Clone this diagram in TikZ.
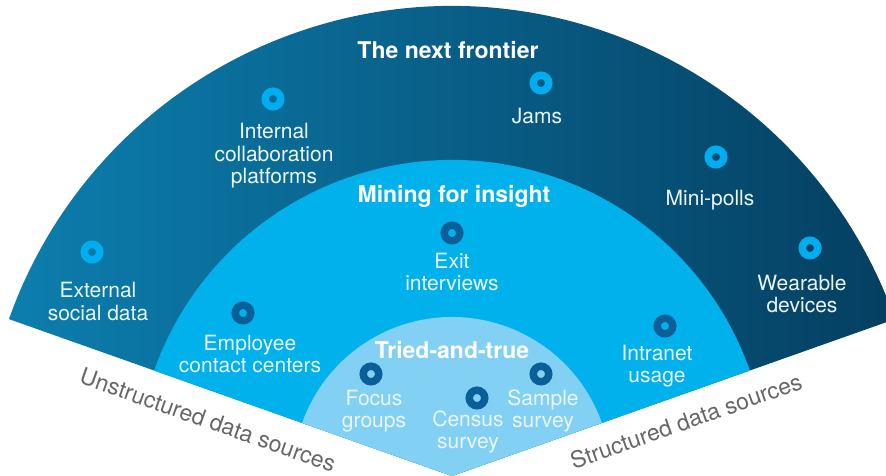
\documentclass[tikz,border=0pt]{standalone}
\usepackage{fontspec}
\setmainfont{TeX Gyre Heros}
\definecolor{outerL}{HTML}{0C7EAE}
\definecolor{outerR}{HTML}{053F61}
\definecolor{midC}{HTML}{00B1EC}
\definecolor{innC}{HTML}{82D0F4}
\definecolor{ringC}{HTML}{00AEEF}
\definecolor{ringD}{HTML}{0B5F98}
\definecolor{labC}{HTML}{EAF6FC}
\definecolor{edgeC}{HTML}{666666}
\begin{document}
\begin{tikzpicture}[x=1pt,y=1pt,
  lab/.style={align=center,text=labC,font=\fontsize{21}{22.5}\selectfont,inner sep=0pt},
  ttl/.style={text=white,font=\bfseries\fontsize{23}{26}\selectfont,inner sep=0pt},
  edgelab/.style={text=edgeC,font=\fontsize{23}{26}\selectfont,inner sep=0pt},
  ringbase/.style={circle,minimum size=15.5pt,inner sep=0pt,line width=7.5pt},
  outerdot/.style={ringbase,draw=ringC},
  innerdot/.style={ringbase,draw=ringD}]
\useasboundingbox (-452,0) rectangle (434,476);
\clip (-452,0) rectangle (434,476);
% sectors
\shade[left color=outerL,right color=outerR] (0,0) -- (19.5:470) arc[start angle=19.5,end angle=160.5,radius=470] -- cycle;
\fill[midC] (0,0) -- (19.5:316) arc[start angle=19.5,end angle=160.5,radius=316] -- cycle;
\fill[innC] (0,0) -- (19.5:159) arc[start angle=19.5,end angle=160.5,radius=159] -- cycle;
% outer ring
\node[ttl] (t1) at (-4,426) {The next frontier};
\node[outerdot] (dext) at (-360,224) {};
\node[lab] (lext) at (-354,174.5) {External\\social data};
\node[outerdot] (dint) at (-179,377) {};
\node[lab] (lint) at (-178,320) {Internal\\collaboration\\platforms};
\node[outerdot] (djam) at (89,393) {};
\node[lab] (ljam) at (85,360) {Jams};
\node[outerdot] (dmin) at (264,319) {};
\node[lab] (lmin) at (258,276) {Mini-polls};
\node[outerdot] (dwea) at (358,228) {};
\node[lab] (lwea) at (350,182) {Wearable\\devices};
% middle ring
\node[ttl] (t2) at (2,280) {Mining for insight};
\node[innerdot] (dexi) at (0,243) {};
\node[lab] (lexi) at (0,204) {Exit\\interviews};
\node[innerdot] (demp) at (-209,163) {};
\node[lab] (lemp) at (-202,122) {Employee\\contact centers};
\node[innerdot] (dintr) at (213,150) {};
\node[lab] (lintr) at (205,110) {Intranet\\usage};
% inner ring
\node[ttl] (t3) at (0,126) {Tried-and-true};
\node[innerdot] (dfoc) at (-81,102) {};
\node[lab] (lfoc) at (-78,65) {Focus\\groups};
\node[innerdot] (dcen) at (25,78) {};
\node[lab] (lcen) at (16,44) {Census\\survey};
\node[innerdot] (dsam) at (89,102) {};
\node[lab] (lsam) at (91,65) {Sample\\survey};
% edge labels
\node[edgelab,rotate=-19.5] (eu) at (-244,56) {Unstructured data sources};
\node[edgelab,rotate=19.5] (es) at (234,55) {Structured data sources};
\end{tikzpicture}
\end{document}
